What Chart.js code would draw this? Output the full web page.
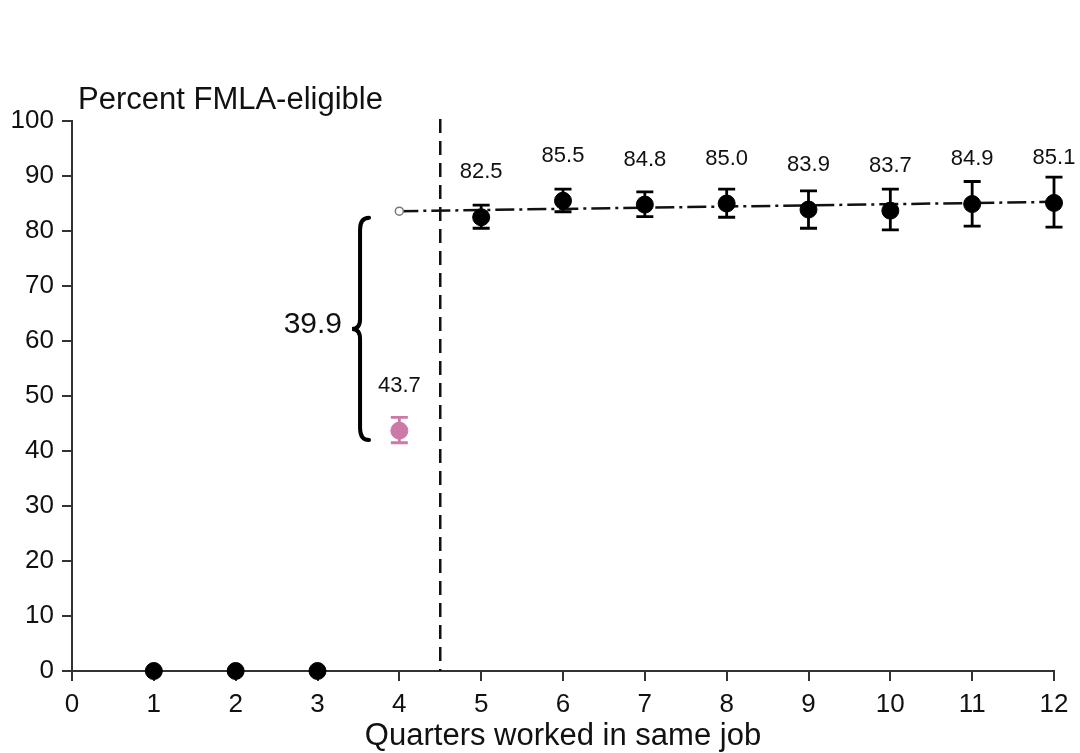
<!DOCTYPE html>
<html>
<head>
<meta charset="utf-8">
<script src="https://cdn.jsdelivr.net/npm/chart.js@4.4.0/dist/chart.umd.min.js"></script>
<style>
  html, body { margin: 0; padding: 0; background: #fff; }
  canvas { display: block; }
</style>
</head>
<body>
<canvas id="c" width="1080" height="753"></canvas>
<script>
// ---- Data ----
const preQuarters = [1, 2, 3];
const preValues = [0, 0, 0];

const ineligQuarter = [4];
const ineligValue = [43.7];
const ineligLow = [41.5];
const ineligHigh = [46.1];

const postQuarters = [5, 6, 7, 8, 9, 10, 11, 12];
const postValues = [82.5, 85.5, 84.8, 85.0, 83.9, 83.7, 84.9, 85.1];
const postLow = [80.5, 83.5, 82.6, 82.5, 80.5, 80.2, 80.9, 80.7];
const postHigh = [84.7, 87.6, 87.1, 87.6, 87.3, 87.6, 89.0, 89.8];

const fitQuarters = [4, 12];
const fitValues = [83.6, 85.3];

const gapLabel = "39.9";
const cutoffQuarter = 4.5;
const braceRange = [42.0, 82.4];
const xTicks = [0,1,2,3,4,5,6,7,8,9,10,11,12];
const yTicks = [0,10,20,30,40,50,60,70,80,90,100];

const yTitle = "Percent FMLA-eligible";
const xTitle = "Quarters worked in same job";

const PINK = '#cc79a7';
const FONT = "'Liberation Sans', Arial, sans-serif";

const toPts = (xs, ys) => xs.map((x, i) => ({ x, y: ys[i] }));

const extras = {
  id: 'extras',
  beforeDatasetsDraw(chart) {
    const { ctx, scales: { x, y } } = chart;
    ctx.save();
    // vertical dashed cutoff line
    const px = x.getPixelForValue(cutoffQuarter);
    ctx.setLineDash([14, 8]);
    ctx.lineWidth = 2.5;
    ctx.strokeStyle = '#111';
    ctx.beginPath();
    ctx.moveTo(px, y.getPixelForValue(100) - 2);
    ctx.lineTo(px, y.getPixelForValue(0));
    ctx.stroke();
    ctx.setLineDash([]);

    // error bars
    const drawErr = (xs, lo, hi, color) => {
      ctx.strokeStyle = color;
      ctx.lineWidth = 2.8;
      xs.forEach((q, i) => {
        const cx = x.getPixelForValue(q);
        const y1 = y.getPixelForValue(lo[i]);
        const y2 = y.getPixelForValue(hi[i]);
        ctx.beginPath();
        ctx.moveTo(cx, y1); ctx.lineTo(cx, y2);
        ctx.moveTo(cx - 8.5, y1); ctx.lineTo(cx + 8.5, y1);
        ctx.moveTo(cx - 8.5, y2); ctx.lineTo(cx + 8.5, y2);
        ctx.stroke();
      });
    };
    drawErr(ineligQuarter, ineligLow, ineligHigh, PINK);
    drawErr(postQuarters, postLow, postHigh, '#000');
    ctx.restore();
  },
  afterDatasetsDraw(chart) {
    const { ctx, scales: { x, y }, chartArea } = chart;
    ctx.save();
    ctx.fillStyle = '#111';
    ctx.textAlign = 'center';
    ctx.textBaseline = 'middle';
    ctx.font = '22px ' + FONT;
    const lbl = (xs, vs) => xs.forEach((q, i) => {
      ctx.fillText(vs[i].toFixed(1), x.getPixelForValue(q), y.getPixelForValue(vs[i]) - 45);
    });
    lbl(ineligQuarter, ineligValue);
    lbl(postQuarters, postValues);

    // brace
    const bx = x.getPixelForValue(3.52);
    const yt = y.getPixelForValue(braceRange[1]);
    const yb = y.getPixelForValue(braceRange[0]);
    const ym = (yt + yb) / 2;
    ctx.strokeStyle = '#000';
    ctx.lineWidth = 4;
    ctx.lineCap = 'round';
    ctx.beginPath();
    ctx.moveTo(bx + 9, yt);
    ctx.quadraticCurveTo(bx, yt, bx, yt + 12);
    ctx.lineTo(bx, ym - 10);
    ctx.quadraticCurveTo(bx, ym, bx - 8, ym);
    ctx.quadraticCurveTo(bx, ym, bx, ym + 10);
    ctx.lineTo(bx, yb - 12);
    ctx.quadraticCurveTo(bx, yb, bx + 9, yb);
    ctx.stroke();

    ctx.font = '30px ' + FONT;
    ctx.textAlign = 'right';
    ctx.fillText(gapLabel, bx - 18, ym - 4);

    // axis titles
    ctx.font = '31px ' + FONT;
    ctx.textAlign = 'left';
    ctx.textBaseline = 'alphabetic';
    ctx.fillText(yTitle, 78, 109);
    ctx.textAlign = 'center';
    ctx.fillText(xTitle, (chartArea.left + chartArea.right) / 2, 745);
    ctx.restore();
  }
};

new Chart(document.getElementById('c'), {
  type: 'scatter',
  data: {
    datasets: [
      {
        label: 'fit',
        data: toPts(fitQuarters, fitValues),
        showLine: true,
        borderColor: '#111',
        borderWidth: 2.5,
        borderDash: [19, 5, 3, 5],
        pointRadius: [4, 0],
        pointBackgroundColor: '#fff',
        pointBorderColor: '#777',
        pointBorderWidth: 1.5,
        order: 4
      },
      {
        label: 'pre',
        data: toPts(preQuarters, preValues),
        backgroundColor: '#000',
        borderColor: '#000',
        pointRadius: 8.5,
        order: 1
      },
      {
        label: 'inelig',
        data: toPts(ineligQuarter, ineligValue),
        backgroundColor: PINK,
        borderColor: PINK,
        pointRadius: 8.5,
        order: 2
      },
      {
        label: 'post',
        data: toPts(postQuarters, postValues),
        backgroundColor: '#000',
        borderColor: '#000',
        pointRadius: 8.5,
        order: 3
      }
    ]
  },
  options: {
    responsive: false,
    animation: false,
    devicePixelRatio: 1,
    clip: false,
    layout: { padding: { top: 121, right: 26, left: 0, bottom: 0 } },
    plugins: { legend: { display: false }, tooltip: { enabled: false } },
    scales: {
      x: {
        type: 'linear',
        min: 0, max: 12,
        afterFit: s => { s.height = 82; },
        afterBuildTicks: s => { s.ticks = xTicks.map(v => ({ value: v })); },
        grid: { drawOnChartArea: false, drawTicks: true, tickLength: 10, color: '#333', lineWidth: 2 },
        border: { display: true, color: '#333', width: 2 },
        ticks: { color: '#111', font: { family: FONT, size: 26 }, padding: 8, maxRotation: 0 }
      },
      y: {
        type: 'linear',
        min: 0, max: 100,
        afterFit: s => { s.width = 72; },
        afterBuildTicks: s => { s.ticks = yTicks.map(v => ({ value: v })); },
        grid: { drawOnChartArea: false, drawTicks: true, tickLength: 10, color: '#333', lineWidth: 2 },
        border: { display: true, color: '#333', width: 2 },
        ticks: { color: '#111', font: { family: FONT, size: 26 }, padding: 8 }
      }
    }
  },
  plugins: [extras]
});
</script>
</body>
</html>
